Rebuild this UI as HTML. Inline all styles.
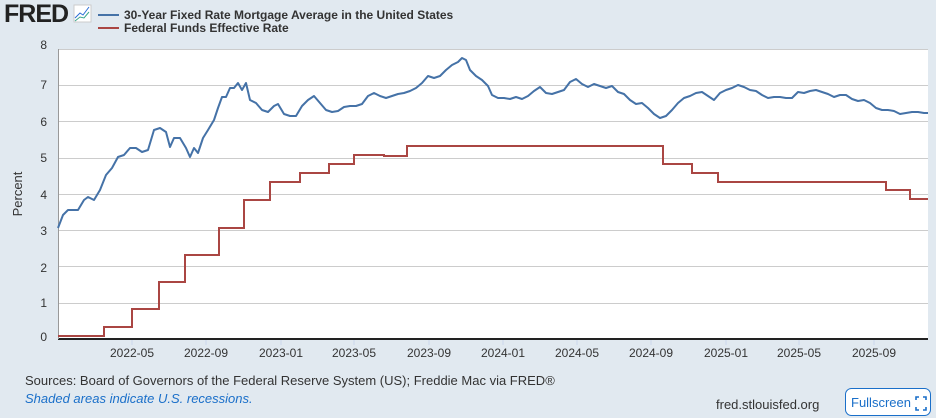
<!DOCTYPE html>
<html><head><meta charset="utf-8"><style>
body{margin:0;background:#e1e9f0;font-family:"Liberation Sans",sans-serif;}
svg{display:block}
</style></head><body>
<svg width="936" height="418" xmlns="http://www.w3.org/2000/svg" font-family="Liberation Sans, sans-serif">
<rect width="936" height="418" fill="#e1e9f0"/>
<text x="4" y="22" font-size="25" font-weight="bold" fill="#222" letter-spacing="-1">FRED</text>
<rect x="74" y="5" width="17" height="17" fill="#fff" stroke="#ccc"/>
<polyline points="75,18 80,13 83,15 89,7" fill="none" stroke="#2a6dd6" stroke-width="1"/>
<polyline points="75,21 80,17 84,18 89,12" fill="none" stroke="#3ba68c" stroke-width="1"/>
<line x1="98" y1="15" x2="119" y2="15" stroke="#4572a7" stroke-width="2"/>
<line x1="98" y1="28" x2="119" y2="28" stroke="#aa4643" stroke-width="2"/>
<text x="124" y="19" font-size="12" font-weight="bold" fill="#333">30-Year Fixed Rate Mortgage Average in the United States</text>
<text x="124" y="32" font-size="12" font-weight="bold" fill="#333">Federal Funds Effective Rate</text>
<rect x="58" y="49" width="870" height="290" fill="#fff"/>
<g stroke="#ccc" stroke-width="1">
<line x1="58" y1="49.5" x2="928" y2="49.5"/><line x1="58" y1="85.5" x2="928" y2="85.5"/><line x1="58" y1="121.5" x2="928" y2="121.5"/><line x1="58" y1="158.5" x2="928" y2="158.5"/><line x1="58" y1="194.5" x2="928" y2="194.5"/><line x1="58" y1="230.5" x2="928" y2="230.5"/><line x1="58" y1="266.5" x2="928" y2="266.5"/><line x1="58" y1="303.5" x2="928" y2="303.5"/>
</g>
<line x1="58" y1="339" x2="928" y2="339" stroke="#222" stroke-width="2"/>
<line x1="58.5" y1="49" x2="58.5" y2="339" stroke="#999"/>
<g stroke="#ccd6eb"><line x1="132" y1="340" x2="132" y2="345"/><line x1="206" y1="340" x2="206" y2="345"/><line x1="281" y1="340" x2="281" y2="345"/><line x1="354" y1="340" x2="354" y2="345"/><line x1="429" y1="340" x2="429" y2="345"/><line x1="503" y1="340" x2="503" y2="345"/><line x1="577" y1="340" x2="577" y2="345"/><line x1="651" y1="340" x2="651" y2="345"/><line x1="726" y1="340" x2="726" y2="345"/><line x1="799" y1="340" x2="799" y2="345"/><line x1="874" y1="340" x2="874" y2="345"/></g>
<g font-size="12" fill="#333" text-anchor="end">
<text x="47" y="49">8</text><text x="47" y="89">7</text><text x="47" y="126">6</text><text x="47" y="162">5</text><text x="47" y="199">4</text><text x="47" y="235">3</text><text x="47" y="272">2</text><text x="47" y="307">1</text><text x="47" y="341">0</text>
</g>
<g font-size="12" fill="#333" text-anchor="middle">
<text x="132" y="357">2022-05</text><text x="206" y="357">2022-09</text><text x="281" y="357">2023-01</text><text x="354" y="357">2023-05</text><text x="429" y="357">2023-09</text><text x="503" y="357">2024-01</text><text x="577" y="357">2024-05</text><text x="651" y="357">2024-09</text><text x="726" y="357">2025-01</text><text x="799" y="357">2025-05</text><text x="874" y="357">2025-09</text>
</g>
<text transform="translate(22,194) rotate(-90)" font-size="13" fill="#333" text-anchor="middle">Percent</text>
<polyline fill="none" stroke="#aa4643" stroke-width="2" points="58,336 104,336 104,327 132,327 132,309 159,309 159,282 185,282 185,255 219,255 219,228 244,228 244,200 270,200 270,182 300,182 300,173 329,173 329,164 354,164 354,155 384,155 384,156 407,156 407,146 663,146 663,164 692,164 692,173 718,173 718,182 886,182 886,190 910,190 910,199 928,199"/>
<polyline fill="none" stroke="#4572a7" stroke-width="2" stroke-linejoin="round" points="58,228 63,215 68,210 78,210 84,200 88,197 94,200 100,190 106,175 112,168 118,157 124,155 130,148 136,148 142,152 148,150 154,130 160,128 166,132 170,147 174,138 180,138 186,148 190,157 194,148 198,153 203,138 208,130 214,120 218,108 222,97 226,97 230,88 234,88 238,83 242,90 246,83 250,100 256,103 262,110 268,112 274,106 278,104 284,114 290,116 296,116 302,106 308,100 314,96 320,103 326,110 332,112 338,111 344,107 350,106 356,106 362,104 368,96 374,93 380,96 386,98 392,96 398,94 404,93 410,91 416,88 422,83 428,76 434,78 440,76 446,70 452,65 458,62 462,58 466,60 470,70 476,76 482,80 488,86 492,95 498,98 504,98 510,99 516,97 522,99 528,96 534,91 540,87 546,93 552,94 558,92 564,90 570,82 576,79 582,84 588,87 594,84 600,86 606,88 612,86 618,92 624,94 630,100 636,104 642,103 648,108 654,114 660,118 666,116 672,110 678,103 684,98 690,96 696,93 702,92 708,96 714,100 720,93 726,90 732,88 738,85 744,87 750,90 756,91 762,95 768,98 774,97 780,97 786,98 792,98 798,92 804,93 810,91 816,90 822,92 828,94 834,97 840,95 846,95 852,99 858,101 864,100 870,103 876,108 882,110 888,110 894,111 900,114 906,113 912,112 918,112 924,113 928,113"/>
<text x="25" y="385" font-size="13" fill="#333">Sources: Board of Governors of the Federal Reserve System (US); Freddie Mac via FRED®</text>
<text x="25" y="403" font-size="13" fill="#1a6fc9" font-style="italic">Shaded areas indicate U.S. recessions.</text>
<text x="716" y="409" font-size="13" fill="#333">fred.stlouisfed.org</text>
<rect x="845.5" y="388.5" width="85" height="27" rx="6" fill="#fff" stroke="#1a6fc9"/>
<text x="851" y="407" font-size="13" fill="#1a6fc9">Fullscreen</text>
<path d="M916 400v-3h3M923 397h3v3M926 407v3h-3M919 410h-3v-3" fill="none" stroke="#1a6fc9" stroke-width="1.6"/>
</svg>
</body></html>
